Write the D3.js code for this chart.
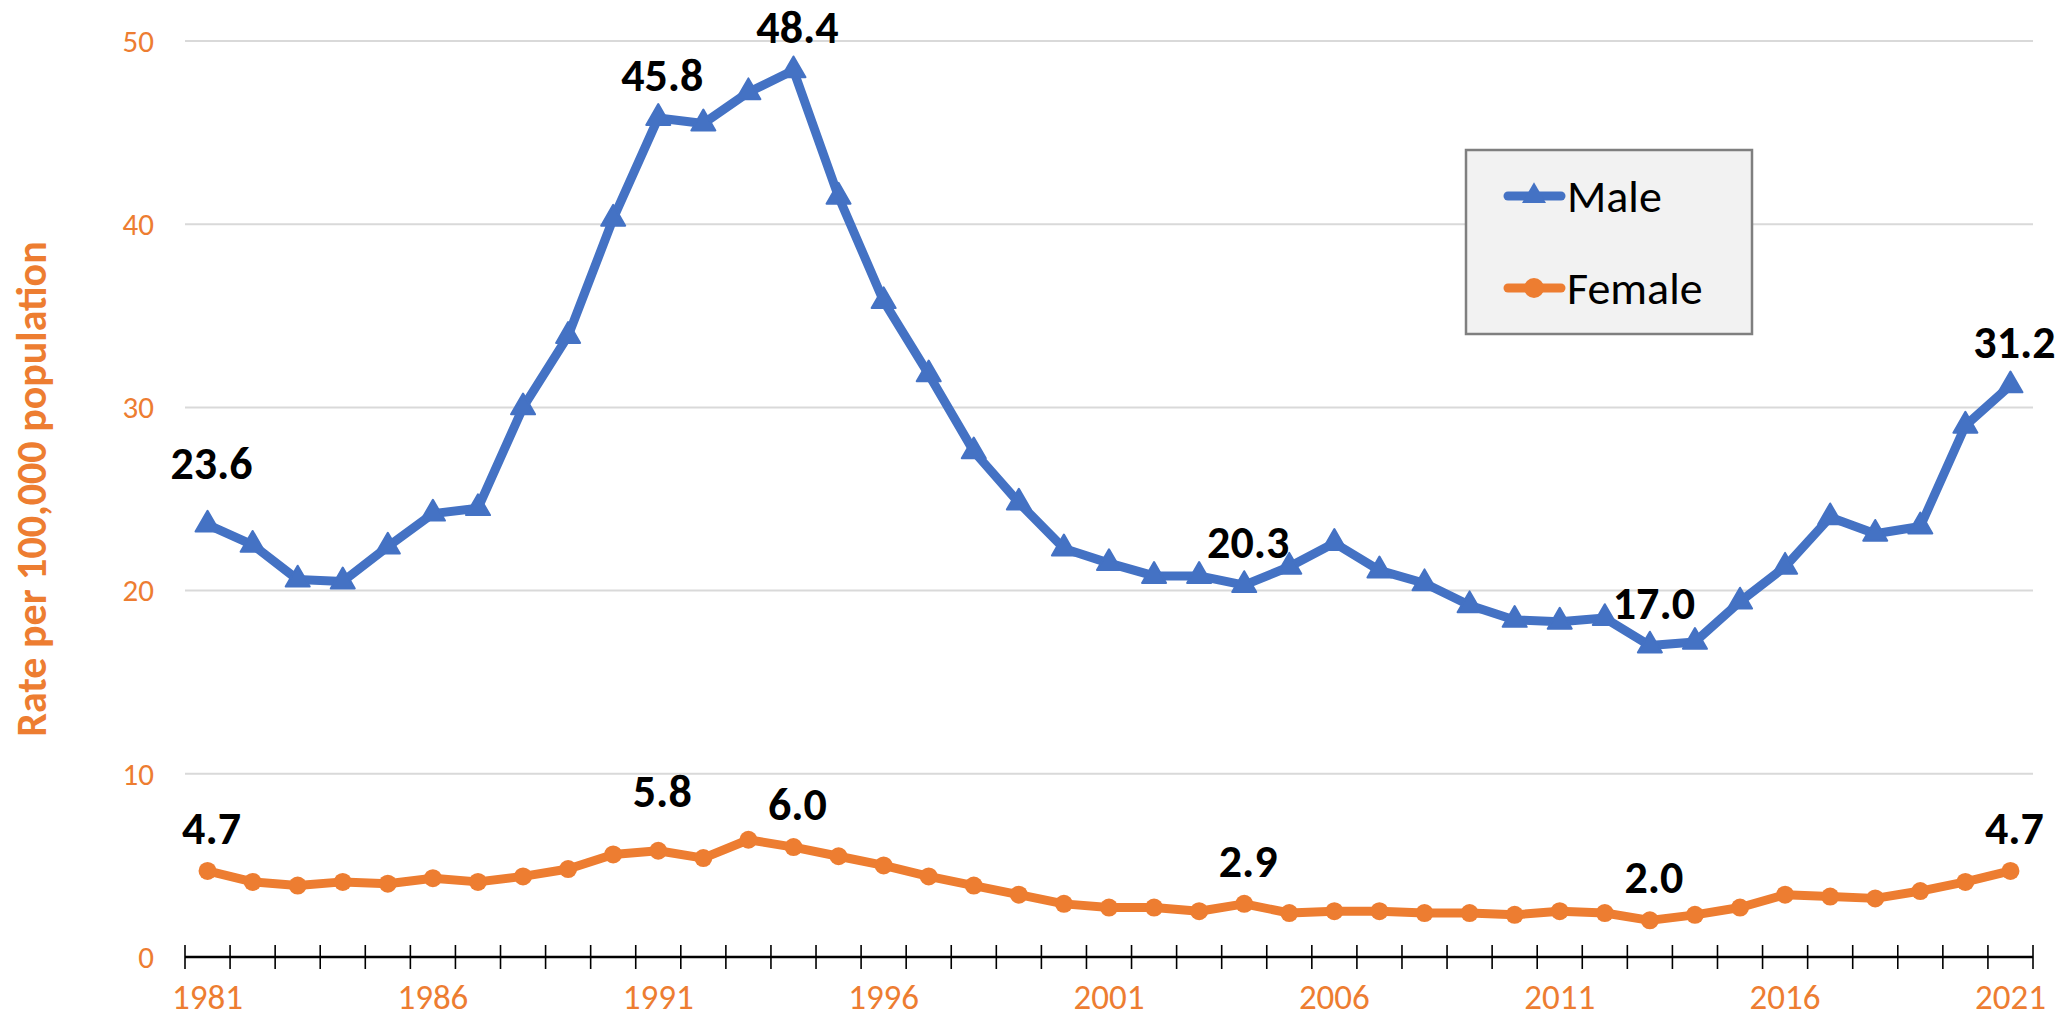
<!DOCTYPE html>
<html>
<head>
<meta charset="utf-8">
<script src="https://cdn.jsdelivr.net/npm/d3@7/dist/d3.min.js"></script>
<style>
  html, body { margin: 0; padding: 0; background: #ffffff; }
  svg { display: block; font-family: Carlito, Calibri, Lato, sans-serif; }
</style>
</head>
<body>
<div id="chart"></div>
<script>
// chart values
var years = ["1981","1982","1983","1984","1985","1986","1987","1988","1989","1990",
             "1991","1992","1993","1994","1995","1996","1997","1998","1999","2000",
             "2001","2002","2003","2004","2005","2006","2007","2008","2009","2010",
             "2011","2012","2013","2014","2015","2016","2017","2018","2019","2020","2021"];

var maleRates   = [23.6, 22.5, 20.6, 20.5, 22.4, 24.2, 24.5, 30.0, 33.9, 40.3,
                   45.8, 45.5, 47.2, 48.4, 41.5, 35.8, 31.8, 27.6, 24.8, 22.3,
                   21.5, 20.8, 20.8, 20.3, 21.3, 22.6, 21.1, 20.4, 19.2, 18.4,
                   18.3, 18.5, 17.0, 17.2, 19.4, 21.3, 24.0, 23.1, 23.5, 29.0, 31.2];

var femaleRates = [4.7, 4.1, 3.9, 4.1, 4.0, 4.3, 4.1, 4.4, 4.8, 5.6,
                   5.8, 5.4, 6.4, 6.0, 5.5, 5.0, 4.4, 3.9, 3.4, 2.9,
                   2.7, 2.7, 2.5, 2.9, 2.4, 2.5, 2.5, 2.4, 2.4, 2.3,
                   2.5, 2.4, 2.0, 2.3, 2.7, 3.4, 3.3, 3.2, 3.6, 4.1, 4.7];

var yTickValues  = [0, 10, 20, 30, 40, 50];
var xTickLabels  = ["1981","1986","1991","1996","2001","2006","2011","2016","2021"];
var maleLabelled   = ["1981","1991","1994","2004","2013","2021"];
var femaleLabelled = ["1981","1991","1994","2004","2013","2021"];

var seriesNames  = ["Male", "Female"];
var seriesColors = ["#4472C4", "#ED7D31"];

var gW = 2067, gH = 1023;
var gPlot = { left: 185, right: 2033, top: 41, bottom: 957 };

var svg = d3.select("#chart").append("svg")
    .attr("width", gW)
    .attr("height", gH);

svg.append("rect").attr("width", gW).attr("height", gH).attr("fill", "#ffffff");

var x = d3.scaleBand().domain(years).range([gPlot.left, gPlot.right]).padding(0);
var y = d3.scaleLinear().domain([0, 50]).range([gPlot.bottom, gPlot.top]);
function cx(yr) { return x(yr) + x.bandwidth() / 2; }

// gridlines + y labels
var yAxis = svg.append("g").attr("class", "y-axis");
yAxis.selectAll("line.grid")
    .data(yTickValues.filter(function (v) { return v > 0; }))
  .enter().append("line")
    .attr("class", "grid")
    .attr("x1", gPlot.left).attr("x2", gPlot.right)
    .attr("y1", function (v) { return y(v); })
    .attr("y2", function (v) { return y(v); })
    .attr("stroke", "#d9d9d9")
    .attr("stroke-width", 2);

yAxis.selectAll("text")
    .data(yTickValues)
  .enter().append("text")
    .attr("x", 154)
    .attr("y", function (v) { return y(v); })
    .attr("dy", "0.35em")
    .attr("text-anchor", "end")
    .attr("font-size", 31)
    .attr("fill", "#ED7D31")
    .text(function (v) { return v; });

svg.append("text")
    .attr("transform", "translate(31,489) rotate(-90)")
    .attr("text-anchor", "middle")
    .attr("dy", "0.35em")
    .attr("font-size", 42)
    .attr("font-weight", "bold")
    .attr("fill", "#ED7D31")
    .text("Rate per 100,000 population");

// x axis: ticks sit on category boundaries and cross the line
var xAxis = svg.append("g").attr("class", "x-axis");
var edges = years.map(function (yr) { return x(yr); }).concat([gPlot.right]);

xAxis.append("line")
    .attr("x1", gPlot.left).attr("x2", gPlot.right)
    .attr("y1", gPlot.bottom).attr("y2", gPlot.bottom)
    .attr("stroke", "#000").attr("stroke-width", 2.5);

xAxis.selectAll("line.tick")
    .data(edges)
  .enter().append("line")
    .attr("class", "tick")
    .attr("x1", function (d) { return d; }).attr("x2", function (d) { return d; })
    .attr("y1", gPlot.bottom - 12).attr("y2", gPlot.bottom + 12)
    .attr("stroke", "#000").attr("stroke-width", 1.6);

xAxis.selectAll("text")
    .data(xTickLabels)
  .enter().append("text")
    .attr("x", function (d) { return cx(d); })
    .attr("y", 1009)
    .attr("text-anchor", "middle")
    .attr("font-size", 35)
    .attr("fill", "#ED7D31")
    .text(function (d) { return d; });

// series
var lineGen = d3.line()
    .x(function (d) { return cx(d.year); })
    .y(function (d) { return y(d.value); });

function toPoints(values) {
  return years.map(function (yr, i) { return { year: yr, value: values[i] }; });
}

var maleData   = toPoints(maleRates);
var femaleData = toPoints(femaleRates);

svg.append("path")
    .datum(maleData)
    .attr("d", lineGen)
    .attr("fill", "none")
    .attr("stroke", seriesColors[0])
    .attr("stroke-width", 9)
    .attr("stroke-linejoin", "round")
    .attr("stroke-linecap", "round");

svg.append("path")
    .datum(femaleData)
    .attr("d", lineGen)
    .attr("fill", "none")
    .attr("stroke", seriesColors[1])
    .attr("stroke-width", 9)
    .attr("stroke-linejoin", "round")
    .attr("stroke-linecap", "round");

var triangle = d3.symbol().type(d3.symbolTriangle).size(250);

svg.append("g").selectAll("path")
    .data(maleData)
  .enter().append("path")
    .attr("d", triangle)
    .attr("transform", function (d) { return "translate(" + cx(d.year) + "," + y(d.value) + ")"; })
    .attr("fill", seriesColors[0])
    .attr("stroke", seriesColors[0])
    .attr("stroke-width", 2)
    .attr("stroke-linejoin", "round");

svg.append("g").selectAll("circle")
    .data(femaleData)
  .enter().append("circle")
    .attr("cx", function (d) { return cx(d.year); })
    .attr("cy", function (d) { return y(d.value); })
    .attr("r", 9)
    .attr("fill", seriesColors[1]);

// data labels; a couple sit a little higher in the original
var labelLift = { "Male1981": 46, "Female1991": 44 };

function addLabels(data, which, name) {
  svg.append("g").selectAll("text")
      .data(data.filter(function (d) { return which.indexOf(d.year) > -1; }))
    .enter().append("text")
      .attr("x", function (d) { return cx(d.year) + 4; })
      .attr("y", function (d) { return y(d.value) - (labelLift[name + d.year] || 27); })
      .attr("text-anchor", "middle")
      .attr("font-size", 46)
      .attr("font-weight", "bold")
      .attr("fill", "#000")
      .text(function (d) { return d.value.toFixed(1); });
}
addLabels(maleData, maleLabelled, "Male");
addLabels(femaleData, femaleLabelled, "Female");

// legend
var legend = svg.append("g").attr("transform", "translate(1466,150)");
legend.append("rect")
    .attr("width", 286).attr("height", 184)
    .attr("fill", "#f2f2f2")
    .attr("stroke", "#7f7f7f")
    .attr("stroke-width", 2.5);

var lItems = legend.selectAll("g.item")
    .data(seriesNames)
  .enter().append("g")
    .attr("class", "item")
    .attr("transform", function (d, i) { return "translate(0," + (46 + i * 92) + ")"; });

lItems.append("line")
    .attr("x1", 42).attr("x2", 95)
    .attr("stroke", function (d, i) { return seriesColors[i]; })
    .attr("stroke-width", 9)
    .attr("stroke-linecap", "round");

lItems.filter(function (d, i) { return i === 0; }).append("path")
    .attr("d", triangle)
    .attr("transform", "translate(68,0)")
    .attr("fill", seriesColors[0]);

lItems.filter(function (d, i) { return i === 1; }).append("circle")
    .attr("cx", 68).attr("r", 10)
    .attr("fill", seriesColors[1]);

lItems.append("text")
    .attr("x", 101)
    .attr("dy", "0.35em")
    .attr("font-size", 46)
    .attr("fill", "#000")
    .text(function (d) { return d; });
</script>
</body>
</html>
